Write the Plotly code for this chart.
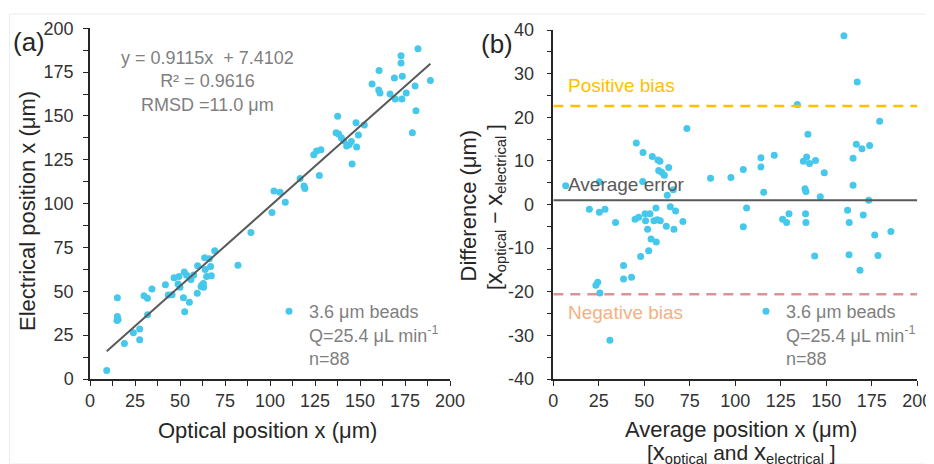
import plotly.graph_objects as go

# ---------------- data: panel (a) ----------------
x_optical = [9.3, 15.2, 15.2, 15.6, 15.0, 19.1, 24.1, 27.6, 27.6, 30.0, 31.9, 32.0, 34.4,
             41.9, 43.5, 45.6, 46.7, 49.4, 48.9, 50.0, 51.9, 52.4, 52.6, 53.7, 55.2, 56.1,
             57.6, 59.6, 59.8, 61.7, 62.2, 63.0, 63.1, 63.7, 64.0, 64.8, 66.3, 67.0, 67.4,
             69.3, 82.2, 89.4, 101.1, 102.2, 105.6, 108.5, 116.7, 118.9, 119.4, 124.3, 125.9,
             127.4, 128.3, 136.7, 137.6, 138.1, 139.6, 140.9, 142.6, 144.0, 145.2, 145.6,
             147.8, 148.1, 149.1, 152.4, 156.7, 160.6, 160.4, 161.1, 166.7, 169.1, 169.6,
             172.8, 172.8, 173.5, 173.3, 175.7, 179.1, 180.6, 181.1, 182.2, 189.1]
y_electrical = [4.9, 46.4, 35.6, 34.0, 33.3, 20.2, 26.4, 28.5, 22.4, 47.5, 46.0, 36.7, 51.3,
                53.8, 47.9, 48.1, 57.8, 58.4, 54.2, 52.3, 46.4, 61.0, 38.4, 59.1, 43.7, 56.8,
                59.3, 48.9, 64.6, 52.7, 53.6, 54.4, 52.3, 69.2, 62.5, 58.4, 68.6, 64.1, 58.9,
                73.2, 64.8, 83.5, 94.9, 107.2, 106.5, 100.8, 114.3, 110.1, 108.6, 127.9, 130.0,
                116.0, 130.8, 140.5, 149.8, 139.7, 137.6, 135.9, 132.9, 133.8, 135.4, 122.6,
                146.2, 132.3, 139.2, 144.9, 168.3, 176.0, 164.8, 163.1, 162.5, 171.7, 159.7,
                184.4, 180.2, 172.6, 159.7, 163.1, 140.5, 167.1, 153.0, 188.4, 170.3]
fit_slope = 0.9115
fit_intercept = 7.4102
fit_text = "y = 0.9115x  + 7.4102<br>R² = 0.9616<br>RMSD =11.0 μm"

# ---------------- data: panel (b) ----------------
avg_pos = [6.8, 19.8, 23.4, 24.4, 25.3, 25.3, 25.6, 28.4, 31.1, 34.2, 38.6, 38.6, 43.0,
           44.9, 45.6, 46.9, 48.0, 49.1, 49.3, 50.4, 50.7, 51.8, 52.4, 53.1, 53.7, 54.4,
           55.3, 56.4, 56.6, 57.1, 57.5, 57.9, 58.6, 58.8, 59.5, 61.0, 62.1, 62.6, 63.4,
           64.3, 65.9, 66.3, 67.2, 71.2, 73.4, 86.4, 97.6, 104.4, 104.4, 106.2, 114.1,
           114.1, 115.6, 121.4, 126.0, 128.2, 129.5, 134.1, 137.4, 138.3, 138.6, 138.8,
           138.8, 139.2, 139.9, 140.8, 144.1, 143.6, 146.7, 148.9, 159.7, 161.7, 162.5,
           162.6, 164.7, 164.7, 166.5, 167.0, 168.5, 169.6, 170.3, 173.3, 173.8, 176.6,
           178.4, 179.3, 185.5]
difference = [4.3, -1.1, -18.5, -17.8, 5.2, -1.8, -20.3, -1.1, -31.1, -4.1, -14.0, -17.1, -16.7,
              -3.4, 14.1, -2.9, -11.9, 5.3, 11.9, -2.1, -3.7, -5.7, -10.6, -2.1, -7.9, 11.0,
              -3.7, -0.8, -8.6, -3.5, 10.2, 7.8, 9.9, -3.7, 7.4, 6.7, -5.0, 2.1, 8.5,
              -0.5, 3.4, -5.7, -1.5, -3.9, 17.4, 6.0, 6.2, 8.0, -5.1, -0.8, 10.7,
              8.6, 2.8, 11.3, -3.4, -4.1, -2.1, 22.9, 9.9, 3.6, -2.1, 3.0,
              -4.1, 10.9, 16.1, 9.4, 10.1, -11.8, 1.8, 7.3, 38.7, -1.3, -11.5,
              -4.1, 10.6, 4.4, 13.8, 28.1, -15.1, 12.8, -2.4, 1.0, 13.5, -7.0,
              -11.7, 19.1, -6.2]
mean_error = 1.0
positive_bias = 22.6
negative_bias = -20.6

ticks_a = [0, 25, 50, 75, 100, 125, 150, 175, 200]
ticks_b_y = [-40, -30, -20, -10, 0, 10, 20, 30, 40]
ticks_b_y_text = ["-40", "-30", "-20", "-10", "0", "10", "20", "30", "40"]
legend_text = "3.6 μm beads<br>Q=25.4 μL min<sup>-1</sup><br>n=88"

# ---------------- styling ----------------
VIEW_W, VIEW_H = 934, 464
OFF = 8                      # page body margin of the browser
W, H = VIEW_W - OFF, VIEW_H - OFF
CYAN = "#45C8EC"
AXC = "#262626"
TXT = "#333333"
GRAY = "#7f7f7f"
FONT = "Liberation Sans, Arial, sans-serif"


def px(xp):
    """screen x pixel -> paper fraction"""
    return (xp - OFF) / W


def py(yp):
    """screen y pixel -> paper fraction"""
    return (VIEW_H - yp) / H


fig = go.Figure()

# panel (a)
fig.add_trace(go.Scatter(x=x_optical, y=y_electrical, mode="markers",
                         marker=dict(color=CYAN, size=7), name=legend_text,
                         xaxis="x", yaxis="y", legend="legend"))
x_fit = [min(x_optical), max(x_optical)]
y_fit = [fit_slope * v + fit_intercept for v in x_fit]
fig.add_trace(go.Scatter(x=x_fit, y=y_fit, mode="lines",
                         line=dict(color="#595959", width=2),
                         showlegend=False, xaxis="x", yaxis="y"))

# panel (b)
fig.add_trace(go.Scatter(x=avg_pos, y=difference, mode="markers",
                         marker=dict(color=CYAN, size=7), name=legend_text,
                         xaxis="x2", yaxis="y2", legend="legend2"))
xr = [0, 200]
fig.add_trace(go.Scatter(x=xr, y=[mean_error] * 2, mode="lines",
                         line=dict(color="#595959", width=2),
                         showlegend=False, xaxis="x2", yaxis="y2"))
fig.add_trace(go.Scatter(x=xr, y=[positive_bias] * 2, mode="lines",
                         line=dict(color="#FFC000", width=2.5, dash="10px,7px"),
                         showlegend=False, xaxis="x2", yaxis="y2"))
fig.add_trace(go.Scatter(x=xr, y=[negative_bias] * 2, mode="lines",
                         line=dict(color="#D99594", width=2.5, dash="10px,7px"),
                         showlegend=False, xaxis="x2", yaxis="y2"))

axis_common = dict(showline=True, linecolor=AXC, linewidth=1.5, showgrid=False,
                   zeroline=False, ticks="outside", ticklen=5, tickcolor=AXC,
                   tickwidth=1.2, automargin=False,
                   tickfont=dict(size=18, color=TXT, family=FONT))
minor_common = dict(ticks="outside", ticklen=5, tickcolor=AXC, tickwidth=1.2, showgrid=False)

fig.update_layout(
    width=W, height=H, autosize=False, margin=dict(l=0, r=0, t=0, b=0, pad=0),
    paper_bgcolor="white", plot_bgcolor="white",
    font=dict(family=FONT, color=TXT),
    xaxis=dict(domain=[px(90), px(450)], range=[0, 200], tickvals=ticks_a,
               minor=dict(dtick=12.5, tick0=0, **minor_common),
               anchor="y", ticklabelstandoff=0, **axis_common),
    yaxis=dict(domain=[py(379), py(28.3)], range=[0, 200], tickvals=ticks_a,
               minor=dict(dtick=12.5, tick0=0, **minor_common),
               anchor="x", ticklabelstandoff=6, **axis_common),
    xaxis2=dict(domain=[px(553.3), px(917.3)], range=[0, 200], tickvals=ticks_a,
                anchor="y2", ticklabelstandoff=0, **axis_common),
    yaxis2=dict(domain=[py(379), py(30)], range=[-40, 40], tickvals=ticks_b_y,
                ticktext=ticks_b_y_text,
                minor=dict(dtick=5, tick0=0, **minor_common),
                anchor="x2", ticklabelstandoff=9, **axis_common),
    legend=dict(x=px(269), y=py(293), xanchor="left", yanchor="top",
                bgcolor="rgba(0,0,0,0)", valign="top",
                font=dict(size=18, color=GRAY, family=FONT)),
    legend2=dict(x=px(746), y=py(293), xanchor="left", yanchor="top",
                 bgcolor="rgba(0,0,0,0)", valign="top",
                 font=dict(size=18, color=GRAY, family=FONT)),
)

ann = []


def add(text, x, y, size, color, xanchor="center", yanchor="middle", angle=0, align="center"):
    ann.append(dict(text=text, x=px(x), y=py(y), xref="paper", yref="paper",
                    xanchor=xanchor, yanchor=yanchor, showarrow=False, textangle=angle,
                    align=align, font=dict(size=size, color=color, family=FONT)))


add("(a)", 29, 42, 26, AXC)
add("(b)", 497, 44, 26, AXC)
add(fit_text, 207, 82, 18, GRAY)
add("Optical position x (μm)", 267, 430, 22, AXC)
add("Electrical position x (μm)", 27, 211, 22, AXC, angle=-90)
add("Average position x (μm)", 741, 429, 22, AXC)
add("[<span style='font-size:24px'>x</span><sub>optical</sub> and "
    "<span style='font-size:24px'>x</span><sub>electrical</sub> ]", 741, 452, 21, AXC)
add("Difference (μm)", 467.5, 206, 22, AXC, angle=-90)
add("[<span style='font-size:24px'>x</span><sub>optical</sub> − "
    "<span style='font-size:24px'>x</span><sub>electrical</sub> ]", 494, 207, 21, AXC, angle=-90)
add("Positive bias", 566, 85, 19, "#FFC000", xanchor="left")
add("Average error", 566, 184, 19, "#595959", xanchor="left")
add("Negative bias", 566, 312, 19, "#F4B183", xanchor="left")
fig.update_layout(annotations=ann)

# faint outer frame of the original figure
fig.add_shape(type="rect", xref="paper", yref="paper", x0=px(9.5), x1=1,
              y0=0, y1=py(14), line=dict(color="#ececec", width=1), layer="below")

fig.write_html("out.html")
